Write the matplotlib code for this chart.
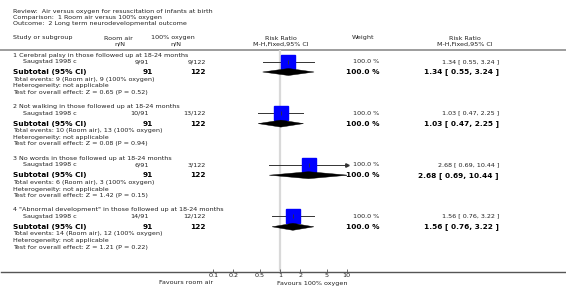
import numpy as np
import matplotlib
matplotlib.use('Agg')
import matplotlib.pyplot as plt
from matplotlib.patches import Polygon

#data
groups = ['1 Cerebral palsy in those followed up at 18-24 months',
          '2 Not walking in those followed up at 18-24 months',
          '3 No words in those followed up at 18-24 months',
          '4 "Abnormal development" in those followed up at 18-24 months']
study = 'Saugstad 1998 c'
airEvents = [9, 10, 6, 14]
airTotal = [91, 91, 91, 91]
oxyEvents = [9, 13, 3, 12]
oxyTotal = [122, 122, 122, 122]
rr = [1.34, 1.03, 2.68, 1.56]
lo = [0.55, 0.47, 0.69, 0.76]
hi = [3.24, 2.25, 10.44, 3.22]
weight = [100.0, 100.0, 100.0, 100.0]
zval = [0.65, 0.08, 1.42, 1.21]
pval = [0.52, 0.94, 0.15, 0.22]
ticks = [0.1, 0.2, 0.5, 1, 2, 5, 10]
tickLabels = ['0.1', '0.2', '0.5', '1', '2', '5', '10']

W, H = 566, 301
fig = plt.figure(figsize=(W/100, H/100), dpi=100)
#background axes in pixel units for the text table
bg = fig.add_axes([0, 0, 1, 1])
bg.set_xlim(0, W)
bg.set_ylim(H, 0)
bg.axis('off')

txt = '#222222'
small = 4.55
big = 5.3

#title block
bg.text(13, 11, 'Review:  Air versus oxygen for resuscitation of infants at birth', fontsize=small, color=txt, va='center')
bg.text(13, 17.5, 'Comparison:  1 Room air versus 100% oxygen', fontsize=small, color=txt, va='center')
bg.text(13, 24, 'Outcome:  2 Long term neurodevelopmental outcome', fontsize=small, color=txt, va='center')

#column headers
bg.text(13, 38, 'Study or subgroup', fontsize=small, color=txt, va='center')
bg.text(118, 38, 'Room air', fontsize=small, color=txt, va='center', ha='center')
bg.text(120, 44, 'n/N', fontsize=small, color=txt, va='center', ha='center')
bg.text(173, 38, '100% oxygen', fontsize=small, color=txt, va='center', ha='center')
bg.text(176, 44, 'n/N', fontsize=small, color=txt, va='center', ha='center')
bg.text(281, 38, 'Risk Ratio', fontsize=small, color=txt, va='center', ha='center')
bg.text(281, 44, 'M-H,Fixed,95% CI', fontsize=small, color=txt, va='center', ha='center')
bg.text(363, 38, 'Weight', fontsize=small, color=txt, va='center', ha='center')
bg.text(465, 38, 'Risk Ratio', fontsize=small, color=txt, va='center', ha='center')
bg.text(465, 44, 'M-H,Fixed,95% CI', fontsize=small, color=txt, va='center', ha='center')
bg.axhline(49.5, color='#8c8c8c', lw=1.2)
bg.axhline(271.5, color='#555555', lw=1.0, xmin=0.002)

bg.text(213, 283, 'Favours room air', fontsize=small, color=txt, va='center', ha='right')
bg.text(277, 283, 'Favours 100% oxygen', fontsize=small, color=txt, va='center', ha='left')

#forest axes, log scale, 0.1 -> 10
x0, x1 = 213.3, 346.7
ax = fig.add_axes([x0/W, 0, (x1-x0)/W, 1])
ax.set_xscale('log')
ax.set_xlim(0.1, 10)
ax.set_ylim(H, 0)
ax.patch.set_alpha(0)
for s in ['top', 'left', 'right']:
    ax.spines[s].set_visible(False)
ax.spines['bottom'].set_position(('data', 271.5))
ax.spines['bottom'].set_color('none')
ax.set_yticks([])
ax.set_xticks(ticks)
ax.set_xticklabels(tickLabels)
ax.xaxis.set_minor_locator(matplotlib.ticker.NullLocator())
ax.tick_params(axis='x', direction='in', length=2.5, width=0.6, color='#555555',
               labelsize=small, labelcolor=txt, pad=1.2)

ax.vlines(1, 50, 271, color='#d9d9d9', lw=1.6, zorder=0)

step = 51.6
for g in range(len(groups)):
    y0 = 55 + step*g
    ys = y0 + 6.5
    yt = y0 + 17
    bg.text(13, y0, groups[g], fontsize=small, color=txt, va='center')
    bg.text(23, ys, study, fontsize=small, color=txt, va='center')
    bg.text(149, ys, '%d/%d' % (airEvents[g], airTotal[g]), fontsize=small, color=txt, va='center', ha='right')
    bg.text(206, ys, '%d/%d' % (oxyEvents[g], oxyTotal[g]), fontsize=small, color=txt, va='center', ha='right')
    bg.text(379, ys, '%.1f %%' % weight[g], fontsize=small, color=txt, va='center', ha='right')
    bg.text(499, ys, '%.2f [ %.2f, %.2f ]' % (rr[g], lo[g], hi[g]), fontsize=small, color=txt, va='center', ha='right')

    bg.text(13, yt, 'Subtotal (95% CI)', fontsize=big, color='black', va='center', weight='bold')
    bg.text(153, yt, '%d' % airTotal[g], fontsize=big, color='black', va='center', ha='right', weight='bold')
    bg.text(206, yt, '%d' % oxyTotal[g], fontsize=big, color='black', va='center', ha='right', weight='bold')
    bg.text(379, yt, '%.1f %%' % weight[g], fontsize=big, color='black', va='center', ha='right', weight='bold')
    bg.text(499, yt, '%.2f [ %.2f, %.2f ]' % (rr[g], lo[g], hi[g]), fontsize=big, color='black', va='center', ha='right', weight='bold')

    bg.text(13, y0+24, 'Total events: %d (Room air), %d (100%% oxygen)' % (airEvents[g], oxyEvents[g]), fontsize=small, color=txt, va='center')
    bg.text(13, y0+30.8, 'Heterogeneity: not applicable', fontsize=small, color=txt, va='center')
    bg.text(13, y0+37.3, 'Test for overall effect: Z = %.2f (P = %.2f)' % (zval[g], pval[g]), fontsize=small, color=txt, va='center')

    #study CI line, box and tick
    top = min(hi[g], 10)
    ax.plot([lo[g], top], [ys, ys], color='#333333', lw=0.7, zorder=2)
    if hi[g] > 10:
        ax.plot([10], [ys], marker='>', ms=2.5, color='#333333', clip_on=False, zorder=2)
    ax.plot([rr[g]], [ys], marker='s', ms=9.4, color='#0000ff', mec='#0000ff', zorder=3)
    ax.plot([rr[g]], [ys], marker='|', ms=3, mew=0.6, color='#333333', zorder=4)

    #subtotal diamond
    d = Polygon([[lo[g], yt], [rr[g], yt-3.5], [hi[g], yt], [rr[g], yt+3.5]], closed=True,
                facecolor='black', edgecolor='black', lw=0.3, zorder=3)
    ax.add_patch(d)

fig.savefig('out.png', dpi=100)
